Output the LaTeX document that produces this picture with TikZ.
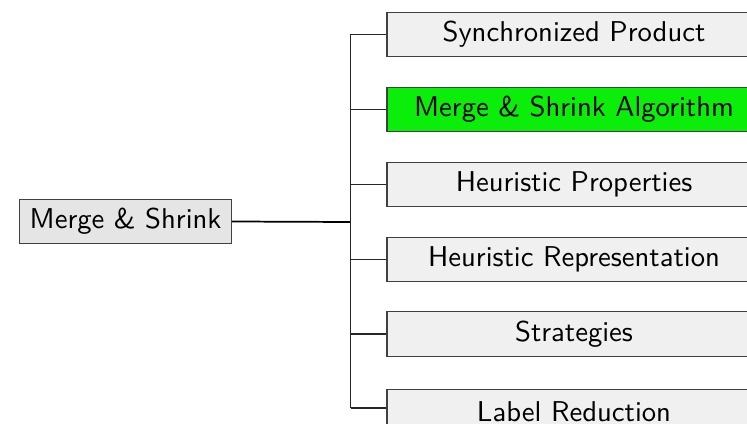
\documentclass[tikz,border=0pt]{standalone}
\usepackage{fontspec}
\newfontfamily\boxfont{lmsans10-regular.otf}
\definecolor{hlgreen}{RGB}{10,238,10}
\begin{document}
\begin{tikzpicture}[x=0.75pt,y=-0.75pt,
  box/.style={draw=black!75,line width=0.9pt,fill=black!6,
    minimum height=33.5pt,inner sep=0pt,
    font=\boxfont\fontsize{21.5pt}{26pt}\selectfont},
  rootbox/.style={box,fill=black!10,minimum width=159pt},
  leafbox/.style={box,minimum width=280.5pt},
  hilite/.style={fill=hlgreen},
  wire/.style={draw=black!85,line width=0.9pt},
  trunk/.style={draw=black,line width=1.3pt}]
\useasboundingbox (0,0) rectangle (747,424);
\clip (0,0) rectangle (747,424);
% root of the tree
\node[rootbox] (root) at (125.6,221.5) {Merge \& Shrink};
% branches
\node[leafbox] (c1) at (574,34.5) {Synchronized Product};
\node[leafbox,hilite] (c2) at (574,109.5) {Merge \& Shrink Algorithm};
\node[leafbox] (c3) at (574,184.5) {Heuristic Properties};
\node[leafbox] (c4) at (574,259.5) {Heuristic Representation};
\node[leafbox] (c5) at (574,334) {Strategies};
\node[leafbox] (c6) at (574,411.5) {Label Reduction};
% connectors
\coordinate (j) at (350.5,222);
\coordinate (top) at (350.5,34.5);
\coordinate (bot) at (350.5,408);
\draw[trunk] (root.east) -- (j);
\draw[wire] (top) -- (bot);
\foreach \c in {c1,c2,c3,c4,c5}
  \draw[wire] (\c.west -| j) -- (\c.west);
\draw[wire] (bot) -- (bot -| c6.west);
\end{tikzpicture}
\end{document}
